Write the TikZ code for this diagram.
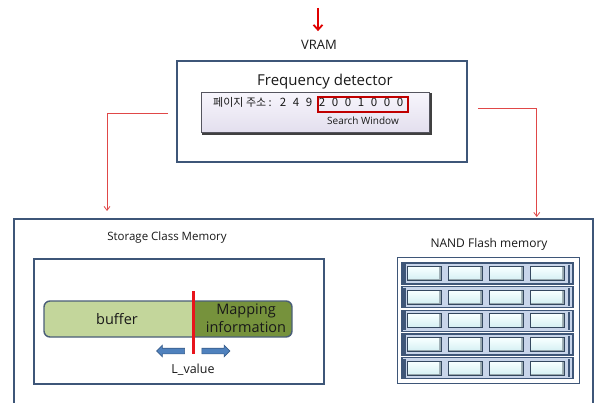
\documentclass[tikz,border=0pt]{standalone}
\usepackage{fontspec}
\setmainfont{Open Sans}
\newfontfamily\kr{Noto Sans CJK KR}
\usetikzlibrary{arrows.meta,shapes.arrows,calc}

\definecolor{frame}{HTML}{3E5678}
\definecolor{linkred}{HTML}{E04848}
\definecolor{srcred}{HTML}{E00000}
\definecolor{winred}{HTML}{C00000}
\definecolor{divred}{HTML}{E8141C}
\definecolor{bufgreen}{HTML}{C3D69B}
\definecolor{mapolive}{HTML}{76923C}
\definecolor{barframe}{HTML}{4A5E78}
\definecolor{shiftblue}{HTML}{4F81BD}
\definecolor{shiftedge}{HTML}{385D8A}
\definecolor{rowblue}{HTML}{C8D5EA}
\definecolor{celledge}{HTML}{34485F}
\definecolor{cellshadow}{HTML}{98A8AE}
\definecolor{cellhi}{HTML}{F6FFFF}
\definecolor{celllo}{HTML}{D8F1F4}
\definecolor{lavtop}{HTML}{F7F5FC}
\definecolor{lavbot}{HTML}{E3DFEE}
\definecolor{addredge}{HTML}{55555F}

\tikzset{
  panel/.style={draw=frame, line width=1.8pt, anchor=north west, inner sep=0pt},
  txt/.style={inner sep=0pt, text=black!90},
  link/.style={draw=linkred, line width=0.8pt, -{Straight Barb[length=4pt,width=6pt]}},
  shiftarrow/.style={single arrow, draw=shiftedge, fill=shiftblue, line width=0.6pt,
    inner sep=2.5pt, minimum height=28pt, single arrow head extend=3pt,
    single arrow head indent=0pt}
}

\begin{document}
\begin{tikzpicture}[x=1pt,y=-1pt]
\useasboundingbox (0,0) rectangle (596,403);
\fill[white] (0,0) rectangle (596,403);

% input from VRAM
\coordinate (src) at (318,8);
\node[txt, font=\fontsize{13}{15}\selectfont] (vram) at (319,45) {VRAM};
\draw[srcred, line width=1.8pt, -{Straight Barb[length=5pt,width=9pt]}, shorten >=9pt]
  (src) -- (src |- vram.north);

% frequency detector panel
\node[panel, minimum width=290pt, minimum height=101pt] (freq) at (176,60) {};
\node[txt, font=\fontsize{15}{17}\selectfont] (ftitle) at (325,82) {Frequency detector};

\node[anchor=north west, inner sep=0pt, minimum width=228pt, minimum height=40pt,
      draw=addredge, line width=1pt, top color=lavtop, bottom color=lavbot] (addr) at (201,92) {};
\draw[black!75, line width=1.6pt] ($(addr.north east)+(0.8,1)$) -- ($(addr.south east)+(0.8,0.8)$)
  -- ($(addr.south west)+(1,0.8)$);

\node[txt, anchor=west, font=\kr\fontsize{11}{13}\selectfont] (kor) at (213,102) {페이지 주소 :};
\foreach \d [count=\i from 0] in {2,4,9,2,0,0,1,0,0,0}
  \node[txt, font=\kr\fontsize{11.5}{13}\selectfont] (d\i) at (283+13*\i,102) {\d};
\node[anchor=north west, inner sep=0pt, draw=winred, line width=1.6pt,
      minimum width=90pt, minimum height=15pt] (win) at (317,96) {};
\node[txt, font=\fontsize{10}{12}\selectfont] (wlabel) at (363,121) {Search Window};

% memory panel
\node[panel, minimum width=579pt, minimum height=220pt] (mem) at (13,218) {};

% connectors to the two memories
\draw[link] ($(freq.west)+(-8,2.5)$) -| ($(mem.north west)+(94,-7)$);
\draw[link] ($(freq.east)+(10,-2.5)$) -| ($(mem.north east)+(-57,-1)$);

% storage class memory
\node[txt, font=\fontsize{11.5}{13}\selectfont] (scmtitle) at (167,238) {Storage Class Memory};
\node[panel, line width=1.5pt, minimum width=290pt, minimum height=125pt] (scm) at (33,258) {};

\fill[bufgreen, rounded corners=6pt] (44,301) rectangle (292,337);
\begin{scope}
  \clip[rounded corners=6pt] (44,301) rectangle (292,337);
  \fill[mapolive] (193,301) rectangle (292,337);
\end{scope}
\draw[barframe, line width=1.4pt, rounded corners=6pt] (44,301) rectangle (292,337);

\node[txt, font=\fontsize{14.5}{16}\selectfont] (buf) at (117,319) {buffer};
\node[txt, align=center, font=\fontsize{14.5}{18}\selectfont] (map) at (246,318) {Mapping\\information};

\draw[divred, line width=3pt] (193,291) -- (193,354);
\node[shiftarrow, shape border rotate=180] (shl) at (172,351) {};
\node[shiftarrow] (shr) at (214.5,351) {};
\node[txt, font=\fontsize{12.5}{14}\selectfont] (lval) at (193,370) {L\_value};

% NAND flash memory
\node[txt, font=\fontsize{12}{14}\selectfont] (nandtitle) at (489,244) {NAND Flash memory};
\node[panel, line width=1.3pt, minimum width=182pt, minimum height=126pt] (nand) at (397,257) {};

\foreach \r in {0,...,4} {
  \pgfmathsetmacro\ry{263+23.7*\r}
  \filldraw[fill=rowblue, draw=frame, line width=1.3pt] (402,\ry) rectangle (573,\ry+21);
  \draw[frame, line width=2.5pt] (404.5,\ry+1) -- (404.5,\ry+20);
  \draw[frame, line width=2pt] (568.5,\ry+1.5) -- (568.5,\ry+19.5);
  \foreach \c in {0,...,3} {
    \pgfmathsetmacro\cx{407+41*\c}
    \filldraw[fill=cellshadow, draw=celledge, line width=0.9pt] (\cx,\ry+3.5) rectangle (\cx+34,\ry+17.5);
    \shade[top color=cellhi, bottom color=celllo] (\cx+1,\ry+4.5) rectangle (\cx+32,\ry+15.8);
  }
}
\end{tikzpicture}
\end{document}
